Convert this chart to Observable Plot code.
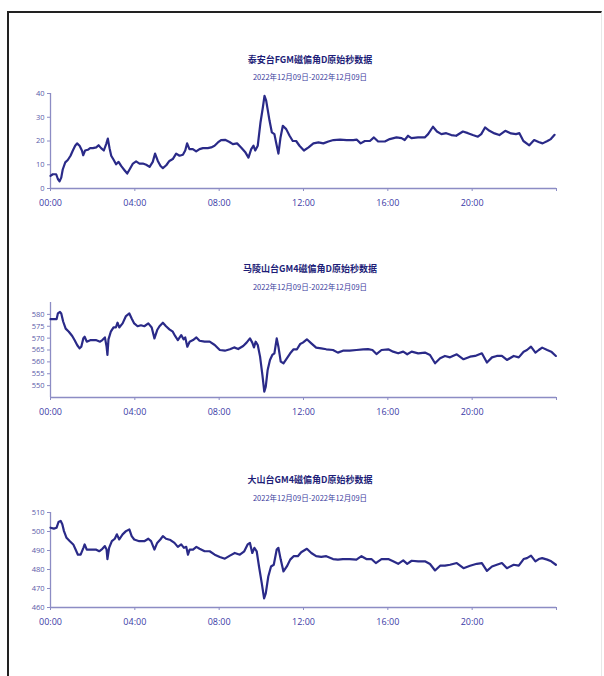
<!DOCTYPE html>
<html>
<head>
<meta charset="utf-8">
<script src="https://cdn.jsdelivr.net/npm/d3@7"></script>
<script src="https://cdn.jsdelivr.net/npm/@observablehq/plot@0.6"></script>
<style>
  html, body { margin: 0; padding: 0; background: #fff; }
  #page { position: relative; width: 604px; height: 676px; overflow: hidden; background: #fff; }
  #frame { position: absolute; left: 7px; top: 11px; width: 592px; height: 700px;
           border-left: 2px solid #222; border-top: 2px solid #222; border-right: 1px solid #e8e8e8; }
  .title { position: absolute; transform: translate(-50%, -50%); white-space: nowrap;
           font-family: "Noto Sans CJK SC", sans-serif; font-weight: 700; font-size: 9px; color: #1e1e78; }
  .sub { position: absolute; transform: translate(-50%, -50%); white-space: nowrap;
         font-family: "Noto Sans CJK SC", sans-serif; font-size: 7.5px; color: #3a3a9c; }
  .panel { position: absolute; left: 0; }
</style>
</head>
<body>
<div id="page"><div id="frame"></div></div>
<script>
// ---------- data ----------
const titles = ["泰安台FGM磁偏角D原始秒数据", "马陵山台GM4磁偏角D原始秒数据", "大山台GM4磁偏角D原始秒数据"];
const subtitle = "2022年12月09日-2022年12月09日";
const hourTicks = [0, 4, 8, 12, 16, 20, 24];
const hourLabels = ["00:00", "04:00", "08:00", "12:00", "16:00", "20:00", ""];

const taianHours = [0.00,0.11,0.27,0.35,0.43,0.51,0.58,0.70,0.82,0.95,1.06,1.17,1.26,1.38,1.49,1.55,1.64,1.77,1.88,2.01,2.17,2.28,2.40,2.53,2.64,2.72,2.80,2.88,3.00,3.11,3.23,3.35,3.51,3.64,3.75,3.91,4.06,4.22,4.38,4.54,4.70,4.85,4.96,5.09,5.22,5.33,5.49,5.64,5.80,5.96,6.12,6.28,6.39,6.48,6.59,6.75,6.91,7.07,7.23,7.46,7.62,7.78,7.94,8.09,8.28,8.49,8.65,8.85,9.04,9.23,9.39,9.52,9.63,9.71,9.83,9.96,10.07,10.15,10.23,10.39,10.50,10.62,10.70,10.81,10.91,11.02,11.18,11.34,11.49,11.65,11.81,12.02,12.24,12.47,12.71,12.94,13.18,13.42,13.73,14.05,14.36,14.52,14.71,14.91,15.15,15.34,15.54,15.86,16.09,16.41,16.65,16.80,16.96,17.12,17.43,17.75,17.91,18.14,18.33,18.54,18.77,19.01,19.24,19.56,19.80,20.03,20.27,20.43,20.61,20.82,21.06,21.29,21.57,21.84,22.08,22.24,22.43,22.71,22.94,23.15,23.34,23.57,23.73,23.91];
const taianValues = [5.3,6,6,4,3,4.6,8,11,12,13.8,16,18,19,18,16,14,16,16.3,17,17,17.3,18.2,17,16,18.7,21,17,13.8,12,10.2,11.2,9.5,7.7,6.3,8,10.5,11.4,10.5,10.5,10,9.1,11.2,14.7,11.6,9.5,8.6,9.8,11.6,12.4,14.7,13.8,14.2,16,19,16.6,16.6,15.6,16.6,17,17,17.3,18,19.4,20.4,20.5,19.6,18.7,19,17.3,15.4,13,16.6,18,16,18,27.8,34,39,37,28.5,23.6,22.9,19.4,14.7,21.5,26.4,25,22.2,20,20,18,16,17.3,19,19.4,19,19.8,20.4,20.6,20.4,20.4,20.6,19,20,20,21.5,19.8,19.8,20.8,21.5,21.2,20.4,22.2,21.2,21.5,21.5,22.9,26,24,22.9,23.3,22.5,22.2,24,23.3,22.5,21.8,22.9,25.7,24.3,23.2,22.5,24.3,23.2,22.9,23.3,20,18.2,20.4,19.6,19,20,20.8,22.6];

const malingHours = [0.00,0.16,0.29,0.35,0.45,0.51,0.60,0.72,0.87,1.03,1.14,1.27,1.38,1.46,1.56,1.62,1.72,1.91,2.15,2.35,2.46,2.58,2.66,2.70,2.75,2.86,2.99,3.10,3.18,3.26,3.42,3.58,3.74,3.85,3.97,4.13,4.29,4.45,4.64,4.80,4.93,5.06,5.17,5.33,5.48,5.64,5.80,5.91,6.04,6.20,6.31,6.39,6.49,6.60,6.76,6.92,7.07,7.31,7.55,7.79,8.03,8.27,8.51,8.71,8.90,9.14,9.30,9.46,9.57,9.65,9.73,9.83,9.94,10.05,10.14,10.21,10.30,10.41,10.52,10.62,10.73,10.81,10.92,11.05,11.21,11.37,11.53,11.69,11.84,11.97,12.16,12.37,12.60,12.84,13.08,13.40,13.63,13.87,14.19,14.51,14.83,15.06,15.27,15.46,15.70,16.02,16.25,16.49,16.73,16.92,17.13,17.44,17.76,18.00,18.24,18.48,18.71,18.95,19.27,19.59,19.90,20.14,20.46,20.70,20.94,21.17,21.41,21.65,21.97,22.21,22.44,22.60,22.79,23.00,23.16,23.32,23.56,23.75,23.97];
const malingValues = [578,578,578,580.4,581,580.4,577,574,572.7,570.9,569.2,567,565.7,566.4,570,570.6,568.5,569.2,569.2,568.5,569.2,570.3,566.4,562.9,569.5,572.7,574.5,574.5,576.5,574.5,576.2,579.3,580.4,578.3,576.2,575,575.4,575,576.2,574.5,569.9,573.4,575,576.5,575,573.7,572.7,570.9,569.2,571.3,569.5,570.3,566.4,568.5,569.2,570.3,568.9,568.5,568.5,567.1,565,564.7,565.3,566.1,565.4,566.7,568.1,569.9,568.1,566.1,568.5,567.1,562.2,554.5,547.5,549.6,556.6,560.8,562.9,563.6,569.9,566.4,560.1,559.4,561.5,563.6,565.3,565.3,567.5,568.1,569.5,567.8,566,565.7,565.3,565,563.9,564.7,564.7,565,565.3,565.4,565,563.3,565,565.3,564.3,563.6,564.3,563.2,564.3,563.6,563.9,562.9,559.4,561.5,562.5,561.9,563.2,561.1,562.2,562.5,563.6,559.7,561.9,562.5,562.5,560.8,562.5,561.9,564.3,565,566.4,563.9,565,566,565,564.3,562.5];

const dashanHours = [0.00,0.16,0.29,0.38,0.48,0.56,0.64,0.76,0.92,1.08,1.19,1.30,1.43,1.56,1.62,1.72,1.91,2.15,2.31,2.46,2.58,2.66,2.70,2.78,2.91,3.05,3.15,3.26,3.42,3.58,3.74,3.85,3.97,4.21,4.45,4.64,4.77,4.93,5.06,5.21,5.33,5.48,5.69,5.88,6.04,6.20,6.33,6.44,6.52,6.60,6.76,6.92,7.07,7.31,7.55,7.79,8.03,8.27,8.51,8.74,8.98,9.19,9.35,9.46,9.57,9.67,9.78,9.89,10.02,10.13,10.21,10.33,10.46,10.59,10.73,10.81,10.92,11.05,11.21,11.37,11.53,11.73,11.89,12.16,12.37,12.60,12.84,13.08,13.40,13.63,13.87,14.19,14.51,14.75,14.98,15.22,15.43,15.70,16.02,16.25,16.49,16.73,16.92,17.13,17.44,17.76,18.00,18.24,18.48,18.71,18.95,19.27,19.59,19.90,20.22,20.46,20.70,20.94,21.17,21.41,21.65,21.97,22.21,22.44,22.60,22.79,23.00,23.16,23.32,23.56,23.75,23.97];
const dashanValues = [502,501.5,502,505,505.6,503.8,500.2,496.7,494.9,493.2,490.5,487.8,487.8,491.4,493.2,490.5,490.5,490.5,489.6,490.9,492.3,490.5,485.5,491.4,494.9,496.2,498.5,495.8,498.5,500.2,501.1,497.6,495.8,494.9,494.9,496.2,494.9,490.5,494,495.8,497.6,496.2,495.5,494,491.9,493.2,491.4,491.9,487.8,490.5,490.5,491.9,490.9,489.6,489.6,487.8,486.6,485.7,487.3,488.7,487.8,489.6,493.2,494,488.7,491.4,489.6,481.6,472.8,464.8,467.4,476.3,481.6,482.5,490.5,491.4,485.2,479,481.6,485.2,487,487,489.1,490.9,488.7,487,486.6,487,485.5,485.2,485.5,485.5,485.2,487,485.5,485.5,483.4,485.5,485.5,484.3,483,484.8,483,484.6,484.3,484.3,482.9,479.5,482,482,482.5,483.4,480.7,482,483,483.4,479.3,481.6,482.5,483.4,480.7,482.5,482,485.5,486,487.3,484.3,485.5,486,485.2,484.3,482.5];

const yDomains = [[0, 40], [545, 585], [460, 510]];
const yTicks = [[0, 10, 20, 30, 40], [550, 555, 560, 565, 570, 575, 580], [460, 470, 480, 490, 500, 510]];

// ---------- layout ----------
const panelTops = [83, 292, 502];
const titleY = [58.5, 268, 479];
const subY = [76, 286, 497];

const series = [
  {hours: taianHours, values: taianValues},
  {hours: malingHours, values: malingValues},
  {hours: dashanHours, values: dashanValues}
];

const page = document.getElementById("page");
const lineColor = "#2a2a88";
const axisColor = "#8c8cc4";
const labelColor = "#3a3aa6";

series.forEach((s, i) => {
  const t = document.createElement("div");
  t.className = "title"; t.textContent = titles[i];
  t.style.left = "310px"; t.style.top = titleY[i] + "px";
  page.appendChild(t);
  const st = document.createElement("div");
  st.className = "sub"; st.textContent = subtitle;
  st.style.left = "310px"; st.style.top = subY[i] + "px";
  page.appendChild(st);

  const data = s.hours.map((h, k) => ({h, v: s.values[k]}));
  const fmt = h => hourLabels[hourTicks.indexOf(h)];
  const chart = Plot.plot({
    width: 604, height: 130,
    marginLeft: 50, marginRight: 48, marginTop: 10, marginBottom: 25,
    style: {background: "transparent", fontFamily: "'Open Sans', sans-serif", color: labelColor, overflow: "visible"},
    x: {domain: [0, 24], label: null},
    y: {domain: yDomains[i], label: null},
    marks: [
      Plot.ruleY([yDomains[i][0]], {stroke: axisColor, strokeWidth: 1.3}),
      Plot.ruleX([0], {stroke: axisColor, strokeWidth: 1.3}),
      Plot.axisX({ticks: hourTicks, tickFormat: fmt, label: null, tickSize: 3, tickPadding: 8, fontSize: 9, stroke: axisColor, fill: labelColor, strokeWidth: 1}),
      Plot.axisY({ticks: yTicks[i], label: null, tickSize: 3, tickPadding: 3, fontSize: 7.5, stroke: axisColor, fill: "#5a5aa8", strokeWidth: 1}),
      Plot.lineY(data, {x: "h", y: "v", stroke: lineColor, strokeWidth: 2.2, strokeLinejoin: "round"})
    ]
  });
  const wrap = document.createElement("div");
  wrap.className = "panel"; wrap.style.top = panelTops[i] + "px";
  wrap.appendChild(chart);
  page.appendChild(wrap);
});
</script>
</body>
</html>
